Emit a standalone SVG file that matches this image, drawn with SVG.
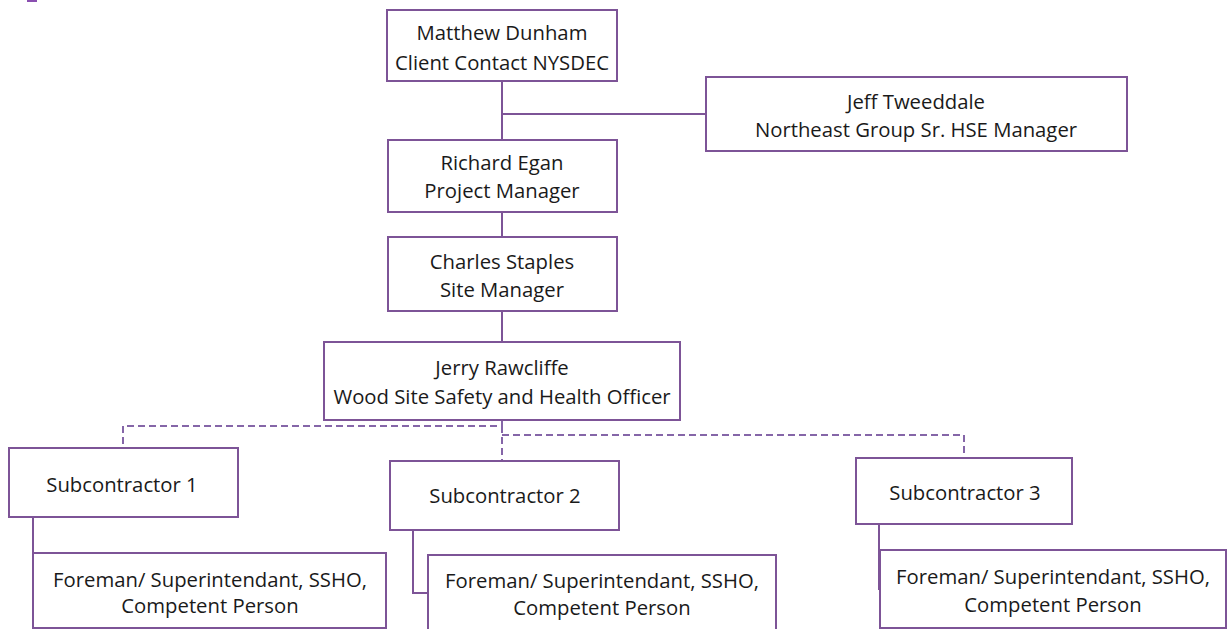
<svg xmlns="http://www.w3.org/2000/svg" width="1228" height="629" viewBox="0 0 1228 629">
<style>
.box{fill:#fff;stroke:#7d5497;stroke-width:2}
.t{font-family:"Open Sans","Noto Sans",sans-serif;font-size:20.3px;fill:#1a1a1a;text-anchor:middle}
.c{fill:none;stroke:#7d5497;stroke-width:2}
.d{fill:none;stroke:#8566a8;stroke-width:2;stroke-dasharray:7,4}
</style>
<rect x="0" y="0" width="1228" height="629" fill="#fff"/>
<rect x="27" y="0" width="10" height="2" fill="#8a4fb0"/>
<g id="connectors">
<path class="c" d="M502 81V140M502 114H706M502 212V237M502 311V342"/>
<path class="d" d="M502 420V426H123V448M502 426V460M502 435H964V458"/>
<path class="c" d="M33 517V592M413 530V593H428M879 524V590"/>
</g>
<g id="n-dunham"><rect class="box" x="387" y="10" width="230" height="71"/>
<text class="t" x="502" y="40">Matthew Dunham</text><text class="t" x="502" y="70">Client Contact NYSDEC</text></g>
<g id="n-tweeddale"><rect class="box" x="706" y="77" width="421" height="74"/>
<text class="t" x="916" y="109">Jeff Tweeddale</text><text class="t" x="916" y="137">Northeast Group Sr. HSE Manager</text></g>
<g id="n-egan"><rect class="box" x="388" y="140" width="229" height="72"/>
<text class="t" x="502" y="170">Richard Egan</text><text class="t" x="502" y="198">Project Manager</text></g>
<g id="n-staples"><rect class="box" x="388" y="237" width="229" height="74"/>
<text class="t" x="502" y="269">Charles Staples</text><text class="t" x="502" y="297">Site Manager</text></g>
<g id="n-rawcliffe"><rect class="box" x="324" y="342" width="356" height="78"/>
<text class="t" x="502" y="375">Jerry Rawcliffe</text><text class="t" x="502" y="404">Wood Site Safety and Health Officer</text></g>
<g id="n-sub1"><rect class="box" x="9" y="448" width="229" height="69"/>
<text class="t" x="122" y="492">Subcontractor 1</text></g>
<g id="n-sub2"><rect class="box" x="390" y="461" width="229" height="69"/>
<text class="t" x="505" y="503">Subcontractor 2</text></g>
<g id="n-sub3"><rect class="box" x="856" y="458" width="216" height="66"/>
<text class="t" x="965" y="500">Subcontractor 3</text></g>
<g id="n-foreman1"><rect class="box" x="33" y="553" width="353" height="75"/>
<text class="t" x="210" y="587">Foreman/ Superintendant, SSHO,</text><text class="t" x="210" y="613">Competent Person</text></g>
<g id="n-foreman2"><rect class="box" x="428" y="555" width="348" height="80"/>
<text class="t" x="602" y="588">Foreman/ Superintendant, SSHO,</text><text class="t" x="602" y="615">Competent Person</text></g>
<g id="n-foreman3"><rect class="box" x="880" y="550" width="346" height="78"/>
<text class="t" x="1053" y="584">Foreman/ Superintendant, SSHO,</text><text class="t" x="1053" y="612">Competent Person</text></g>
</svg>
